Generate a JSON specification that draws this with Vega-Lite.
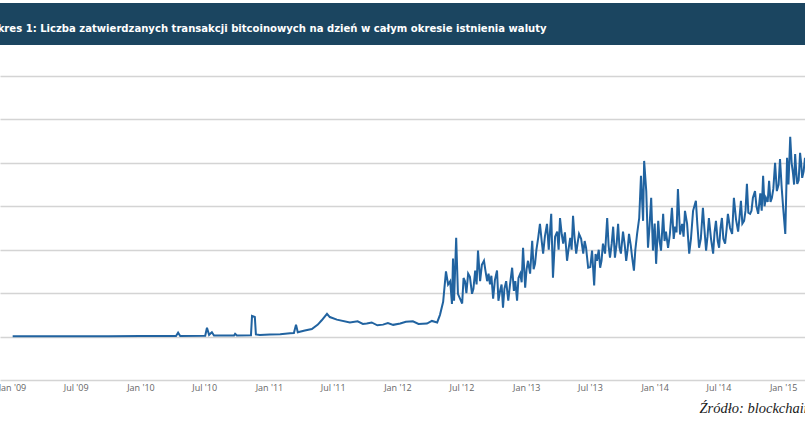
{
  "$schema": "https://vega.github.io/schema/vega-lite/v6.json",
  "autosize": {"type": "none"},
  "padding": {"left": 0, "top": 3, "right": 805, "bottom": 420},
  "background": "white",
  "spacing": 31,
  "config": {"view": {"stroke": null}, "font": "Open Sans"},
  "vconcat": [
    {
      "width": 805,
      "height": 42,
      "view": {"fill": "#1b4560", "stroke": null},
      "title": {
        "text": "Wykres 1: Liczba zatwierdzanych transakcji bitcoinowych na dzień w całym okresie istnienia waluty",
        "anchor": "start",
        "frame": "group",
        "orient": "top",
        "offset": -40,
        "baseline": "alphabetic",
        "dx": -20,
        "color": "white",
        "font": "DejaVu Sans Condensed",
        "fontSize": 11.2,
        "fontWeight": "bold"
      },
      "data": {"values": [{"t": ""}]},
      "mark": {"type": "text"},
      "encoding": {"text": {"field": "t", "type": "nominal"}}
    },
    {
      "width": 805,
      "height": 304,
      "data": {
        "values": [
          {"date": "2009-01-03", "tx": 100},
          {"date": "2009-04-01", "tx": 150},
          {"date": "2009-07-01", "tx": 200},
          {"date": "2009-10-01", "tx": 200},
          {"date": "2010-01-01", "tx": 300},
          {"date": "2010-04-12", "tx": 300},
          {"date": "2010-04-18", "tx": 1800},
          {"date": "2010-04-24", "tx": 300},
          {"date": "2010-07-04", "tx": 400},
          {"date": "2010-07-09", "tx": 4100},
          {"date": "2010-07-15", "tx": 800},
          {"date": "2010-07-23", "tx": 2000},
          {"date": "2010-07-29", "tx": 500},
          {"date": "2010-09-24", "tx": 500},
          {"date": "2010-09-27", "tx": 1300},
          {"date": "2010-10-02", "tx": 500},
          {"date": "2010-11-11", "tx": 600},
          {"date": "2010-11-14", "tx": 9500},
          {"date": "2010-11-22", "tx": 9000},
          {"date": "2010-11-25", "tx": 1000},
          {"date": "2010-12-06", "tx": 700},
          {"date": "2011-01-04", "tx": 900},
          {"date": "2011-02-02", "tx": 1100},
          {"date": "2011-03-02", "tx": 1500},
          {"date": "2011-03-13", "tx": 1600},
          {"date": "2011-03-19", "tx": 5500},
          {"date": "2011-03-24", "tx": 2000},
          {"date": "2011-04-13", "tx": 2800},
          {"date": "2011-05-03", "tx": 3500},
          {"date": "2011-05-20", "tx": 5500},
          {"date": "2011-05-31", "tx": 7500},
          {"date": "2011-06-15", "tx": 10500},
          {"date": "2011-06-23", "tx": 9000},
          {"date": "2011-07-13", "tx": 7800},
          {"date": "2011-08-19", "tx": 6500},
          {"date": "2011-09-10", "tx": 7000},
          {"date": "2011-09-25", "tx": 5800},
          {"date": "2011-10-06", "tx": 6000},
          {"date": "2011-10-20", "tx": 6500},
          {"date": "2011-11-05", "tx": 5200},
          {"date": "2011-11-21", "tx": 5500},
          {"date": "2011-12-05", "tx": 6200},
          {"date": "2011-12-20", "tx": 5400},
          {"date": "2012-01-09", "tx": 6000},
          {"date": "2012-01-25", "tx": 6800},
          {"date": "2012-02-14", "tx": 7000},
          {"date": "2012-03-01", "tx": 5800},
          {"date": "2012-03-25", "tx": 6000},
          {"date": "2012-04-08", "tx": 7200},
          {"date": "2012-04-23", "tx": 6500},
          {"date": "2012-05-01", "tx": 10000},
          {"date": "2012-05-10", "tx": 16000},
          {"date": "2012-05-18", "tx": 30000},
          {"date": "2012-05-24", "tx": 24000},
          {"date": "2012-05-30", "tx": 25500},
          {"date": "2012-06-04", "tx": 15000},
          {"date": "2012-06-07", "tx": 36000},
          {"date": "2012-06-10", "tx": 16500},
          {"date": "2012-06-16", "tx": 45500},
          {"date": "2012-06-21", "tx": 19700},
          {"date": "2012-07-03", "tx": 15200},
          {"date": "2012-07-11", "tx": 25500},
          {"date": "2012-07-20", "tx": 29000},
          {"date": "2012-07-31", "tx": 19700},
          {"date": "2012-08-09", "tx": 30400},
          {"date": "2012-08-17", "tx": 39600},
          {"date": "2012-08-23", "tx": 25500},
          {"date": "2012-09-03", "tx": 34900},
          {"date": "2012-09-12", "tx": 25500},
          {"date": "2012-09-20", "tx": 24000},
          {"date": "2012-09-29", "tx": 17500},
          {"date": "2012-10-10", "tx": 30400},
          {"date": "2012-10-19", "tx": 21200},
          {"date": "2012-10-27", "tx": 13300},
          {"date": "2012-11-05", "tx": 25500},
          {"date": "2012-11-11", "tx": 16500},
          {"date": "2012-11-22", "tx": 31700},
          {"date": "2012-12-01", "tx": 25500},
          {"date": "2012-12-06", "tx": 16500},
          {"date": "2012-12-15", "tx": 29000},
          {"date": "2012-12-23", "tx": 40900},
          {"date": "2012-12-29", "tx": 22500},
          {"date": "2013-01-06", "tx": 34900},
          {"date": "2013-01-18", "tx": 44100},
          {"date": "2013-01-26", "tx": 33500},
          {"date": "2013-02-04", "tx": 45500},
          {"date": "2013-02-09", "tx": 51900},
          {"date": "2013-02-18", "tx": 38200},
          {"date": "2013-03-01", "tx": 51900},
          {"date": "2013-03-13", "tx": 56500},
          {"date": "2013-03-18", "tx": 27100},
          {"date": "2013-03-30", "tx": 48300},
          {"date": "2013-04-07", "tx": 54600},
          {"date": "2013-04-16", "tx": 42800},
          {"date": "2013-04-27", "tx": 34900},
          {"date": "2013-05-06", "tx": 45500},
          {"date": "2013-05-14", "tx": 55600},
          {"date": "2013-05-23", "tx": 38200},
          {"date": "2013-05-31", "tx": 47300},
          {"date": "2013-06-12", "tx": 38200},
          {"date": "2013-06-20", "tx": 40900},
          {"date": "2013-06-26", "tx": 31700},
          {"date": "2013-07-07", "tx": 39600},
          {"date": "2013-07-13", "tx": 23500},
          {"date": "2013-07-21", "tx": 34900},
          {"date": "2013-07-30", "tx": 31700},
          {"date": "2013-08-07", "tx": 42800},
          {"date": "2013-08-13", "tx": 38200},
          {"date": "2013-08-19", "tx": 54600},
          {"date": "2013-08-27", "tx": 36300},
          {"date": "2013-09-05", "tx": 50600},
          {"date": "2013-09-10", "tx": 36300},
          {"date": "2013-09-19", "tx": 51900},
          {"date": "2013-09-27", "tx": 38200},
          {"date": "2013-10-03", "tx": 48300},
          {"date": "2013-10-12", "tx": 34900},
          {"date": "2013-10-20", "tx": 47300},
          {"date": "2013-10-29", "tx": 36300},
          {"date": "2013-11-03", "tx": 30400},
          {"date": "2013-11-12", "tx": 47300},
          {"date": "2013-11-18", "tx": 54600},
          {"date": "2013-11-23", "tx": 74000},
          {"date": "2013-11-29", "tx": 53300},
          {"date": "2013-12-02", "tx": 80900},
          {"date": "2013-12-08", "tx": 67000},
          {"date": "2013-12-13", "tx": 40900},
          {"date": "2013-12-22", "tx": 63900},
          {"date": "2013-12-27", "tx": 39600},
          {"date": "2014-01-05", "tx": 33500},
          {"date": "2014-01-11", "tx": 53300},
          {"date": "2014-01-19", "tx": 39600},
          {"date": "2014-01-25", "tx": 56500},
          {"date": "2014-02-02", "tx": 48300},
          {"date": "2014-02-08", "tx": 40900},
          {"date": "2014-02-19", "tx": 59300},
          {"date": "2014-02-28", "tx": 50600},
          {"date": "2014-03-08", "tx": 67900},
          {"date": "2014-03-20", "tx": 51900},
          {"date": "2014-03-28", "tx": 57900},
          {"date": "2014-04-09", "tx": 38200},
          {"date": "2014-04-20", "tx": 57900},
          {"date": "2014-04-28", "tx": 62500},
          {"date": "2014-05-07", "tx": 40900},
          {"date": "2014-05-18", "tx": 59300},
          {"date": "2014-05-27", "tx": 39600},
          {"date": "2014-06-04", "tx": 54600},
          {"date": "2014-06-16", "tx": 38200},
          {"date": "2014-06-24", "tx": 53300},
          {"date": "2014-07-03", "tx": 40900},
          {"date": "2014-07-11", "tx": 54600},
          {"date": "2014-07-20", "tx": 42800},
          {"date": "2014-07-28", "tx": 56500},
          {"date": "2014-08-09", "tx": 47300},
          {"date": "2014-08-14", "tx": 63900},
          {"date": "2014-08-26", "tx": 48300},
          {"date": "2014-09-03", "tx": 62500},
          {"date": "2014-09-12", "tx": 53300},
          {"date": "2014-09-20", "tx": 70300},
          {"date": "2014-09-29", "tx": 56500},
          {"date": "2014-10-07", "tx": 63900},
          {"date": "2014-10-13", "tx": 67000},
          {"date": "2014-10-22", "tx": 56500},
          {"date": "2014-11-05", "tx": 74000},
          {"date": "2014-11-13", "tx": 63900},
          {"date": "2014-11-22", "tx": 71700},
          {"date": "2014-11-30", "tx": 63900},
          {"date": "2014-12-09", "tx": 80000},
          {"date": "2014-12-14", "tx": 67000},
          {"date": "2014-12-23", "tx": 81800},
          {"date": "2015-01-01", "tx": 59300},
          {"date": "2015-01-07", "tx": 47300},
          {"date": "2015-01-12", "tx": 82300},
          {"date": "2015-01-21", "tx": 92000},
          {"date": "2015-01-29", "tx": 75000},
          {"date": "2015-02-04", "tx": 84100},
          {"date": "2015-02-10", "tx": 70300},
          {"date": "2015-02-18", "tx": 84600},
          {"date": "2015-02-24", "tx": 73100},
          {"date": "2015-03-04", "tx": 82300},
          {"date": "2015-03-12", "tx": 72000},
          {"date": "2012-07-07", "tx": 27000},
          {"date": "2012-07-15", "tx": 20000},
          {"date": "2012-07-25", "tx": 27500},
          {"date": "2012-08-04", "tx": 22000},
          {"date": "2012-08-13", "tx": 24000},
          {"date": "2012-08-28", "tx": 33000},
          {"date": "2012-09-07", "tx": 30500},
          {"date": "2012-09-16", "tx": 29000},
          {"date": "2012-09-24", "tx": 28000},
          {"date": "2012-10-04", "tx": 26000},
          {"date": "2012-10-14", "tx": 16500},
          {"date": "2012-10-23", "tx": 24000},
          {"date": "2012-10-31", "tx": 22000},
          {"date": "2012-11-16", "tx": 24000},
          {"date": "2012-11-27", "tx": 21000},
          {"date": "2012-12-10", "tx": 27000},
          {"date": "2012-12-19", "tx": 25000},
          {"date": "2013-01-02", "tx": 31000},
          {"date": "2013-01-12", "tx": 29000},
          {"date": "2013-01-22", "tx": 31000},
          {"date": "2013-01-30", "tx": 40000},
          {"date": "2013-02-14", "tx": 44000},
          {"date": "2013-02-23", "tx": 46000},
          {"date": "2013-03-06", "tx": 40000},
          {"date": "2013-03-24", "tx": 46000},
          {"date": "2013-04-03", "tx": 40000},
          {"date": "2013-04-12", "tx": 47000},
          {"date": "2013-04-21", "tx": 48000},
          {"date": "2013-05-01", "tx": 40000},
          {"date": "2013-05-10", "tx": 40000},
          {"date": "2013-05-18", "tx": 46000},
          {"date": "2013-05-27", "tx": 43000},
          {"date": "2013-06-06", "tx": 45000},
          {"date": "2013-06-16", "tx": 44000},
          {"date": "2013-07-02", "tx": 32000},
          {"date": "2013-07-17", "tx": 38000},
          {"date": "2013-07-26", "tx": 40000},
          {"date": "2013-08-03", "tx": 35000},
          {"date": "2013-08-23", "tx": 42000},
          {"date": "2013-09-01", "tx": 43000},
          {"date": "2013-09-15", "tx": 43000},
          {"date": "2013-09-23", "tx": 41000},
          {"date": "2013-10-08", "tx": 42000},
          {"date": "2013-10-16", "tx": 40000},
          {"date": "2013-10-25", "tx": 42000},
          {"date": "2013-11-07", "tx": 40000},
          {"date": "2013-12-17", "tx": 50000},
          {"date": "2014-01-01", "tx": 52000},
          {"date": "2014-01-15", "tx": 44000},
          {"date": "2014-01-29", "tx": 44000},
          {"date": "2014-02-13", "tx": 47000},
          {"date": "2014-02-24", "tx": 45000},
          {"date": "2014-03-04", "tx": 48000},
          {"date": "2014-03-14", "tx": 47000},
          {"date": "2014-03-24", "tx": 46000},
          {"date": "2014-04-03", "tx": 52000},
          {"date": "2014-04-14", "tx": 45000},
          {"date": "2014-05-02", "tx": 52000},
          {"date": "2014-05-12", "tx": 45000},
          {"date": "2014-05-22", "tx": 50000},
          {"date": "2014-05-31", "tx": 46000},
          {"date": "2014-06-10", "tx": 45000},
          {"date": "2014-06-20", "tx": 48000},
          {"date": "2014-06-29", "tx": 44000},
          {"date": "2014-07-07", "tx": 50000},
          {"date": "2014-07-15", "tx": 45000},
          {"date": "2014-07-24", "tx": 49000},
          {"date": "2014-08-03", "tx": 50000},
          {"date": "2014-08-20", "tx": 54000},
          {"date": "2014-08-30", "tx": 55000},
          {"date": "2014-09-07", "tx": 52000},
          {"date": "2014-09-16", "tx": 58000},
          {"date": "2014-09-24", "tx": 57000},
          {"date": "2014-10-03", "tx": 58000},
          {"date": "2014-10-17", "tx": 60000},
          {"date": "2014-10-28", "tx": 66000},
          {"date": "2014-11-01", "tx": 58000},
          {"date": "2014-11-09", "tx": 60000},
          {"date": "2014-11-18", "tx": 62000},
          {"date": "2014-11-26", "tx": 62000},
          {"date": "2014-12-04", "tx": 68000},
          {"date": "2014-12-19", "tx": 70000},
          {"date": "2014-12-28", "tx": 68000},
          {"date": "2015-01-16", "tx": 70000},
          {"date": "2015-01-25", "tx": 80000},
          {"date": "2015-02-01", "tx": 70000},
          {"date": "2015-02-07", "tx": 76000},
          {"date": "2015-02-14", "tx": 72000},
          {"date": "2015-02-21", "tx": 80000},
          {"date": "2015-02-28", "tx": 76000}
        ]
      },
      "mark": {"type": "line", "color": "#2163a0", "strokeWidth": 2, "clip": true, "strokeJoin": "miter"},
      "encoding": {
        "x": {
          "field": "date",
          "type": "temporal",
          "scale": {
            "type": "utc",
            "domain": [
              {"year": 2008, "month": 11, "date": 28, "utc": true},
              {"year": 2015, "month": 3, "date": 4, "utc": true}
            ]
          },
          "axis": {
            "values": [
              {"year": 2009, "month": 1, "date": 1, "utc": true},
              {"year": 2009, "month": 7, "date": 1, "utc": true},
              {"year": 2010, "month": 1, "date": 1, "utc": true},
              {"year": 2010, "month": 7, "date": 1, "utc": true},
              {"year": 2011, "month": 1, "date": 1, "utc": true},
              {"year": 2011, "month": 7, "date": 1, "utc": true},
              {"year": 2012, "month": 1, "date": 1, "utc": true},
              {"year": 2012, "month": 7, "date": 1, "utc": true},
              {"year": 2013, "month": 1, "date": 1, "utc": true},
              {"year": 2013, "month": 7, "date": 1, "utc": true},
              {"year": 2014, "month": 1, "date": 1, "utc": true},
              {"year": 2014, "month": 7, "date": 1, "utc": true},
              {"year": 2015, "month": 1, "date": 1, "utc": true}
            ],
            "format": "%b '%y",
            "labelFont": "Open Sans",
            "labelFontSize": 9,
            "labelColor": "#666666",
            "labelPadding": 3,
            "labelFlush": false,
            "labelOverlap": false,
            "ticks": false,
            "domain": false,
            "grid": false,
            "title": "Źródło: blockchain.info",
            "titleFont": "Liberation Serif",
            "titleFontStyle": "italic",
            "titleFontWeight": "normal",
            "titleFontSize": 14.5,
            "titleColor": "#1a1a1a",
            "titleX": 699,
            "titleY": 32,
            "titleAlign": "left",
            "titleBaseline": "alphabetic"
          }
        },
        "y": {
          "field": "tx",
          "type": "quantitative",
          "scale": {"domain": [-20000, 120000], "nice": false, "zero": false},
          "axis": {
            "values": [-20000, 0, 20000, 40000, 60000, 80000, 100000, 120000],
            "labels": false,
            "ticks": false,
            "domain": false,
            "title": null,
            "grid": true,
            "gridColor": "#d4d4d4",
            "gridWidth": 1.3
          }
        }
      }
    }
  ]
}
